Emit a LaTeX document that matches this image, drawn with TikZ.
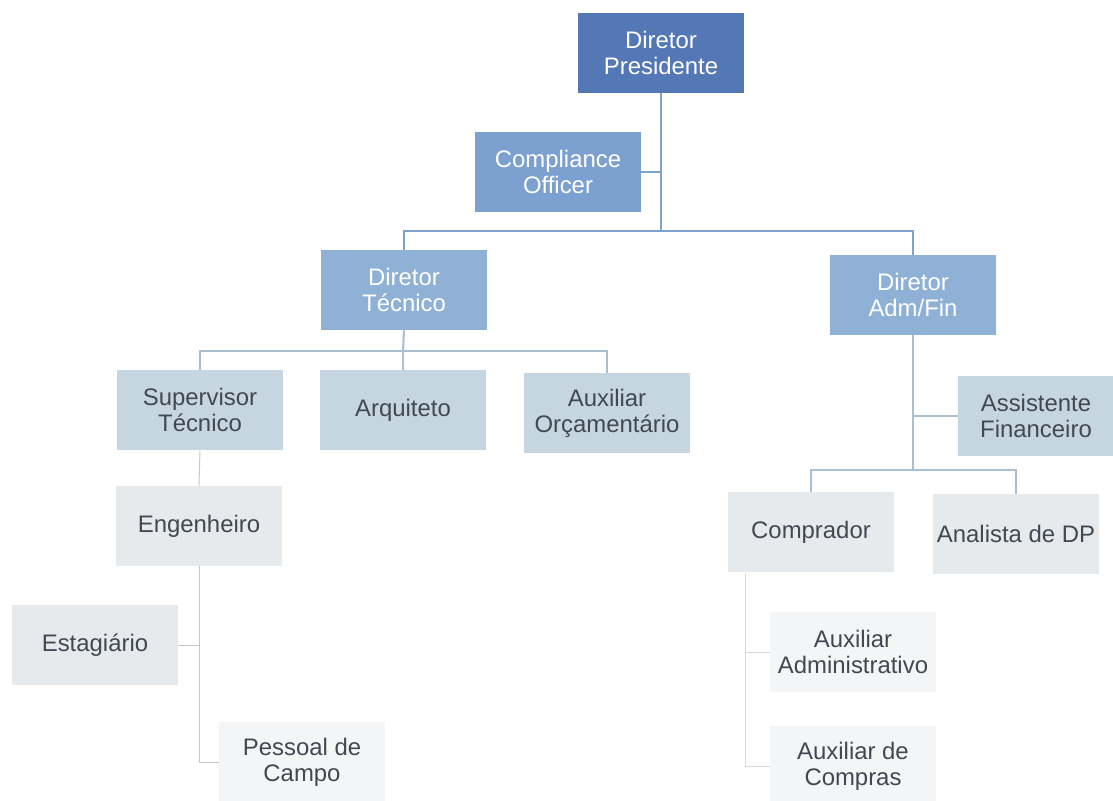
\documentclass[tikz,border=0pt]{standalone}
\usepackage{fontspec}
\setmainfont{Liberation Sans}
\usepackage{tikz}
\usetikzlibrary{positioning}
\definecolor{presblue}{RGB}{84,119,181}
\definecolor{compblue}{RGB}{124,161,208}
\definecolor{dirblue}{RGB}{143,177,214}
\definecolor{lvlthree}{RGB}{198,214,224}
\definecolor{lvlfour}{RGB}{231,234,237}
\definecolor{lvlfive}{RGB}{244,245,246}
\definecolor{txtgray}{RGB}{66,72,82}
\definecolor{lineblue}{RGB}{128,162,207}
\definecolor{linegray}{RGB}{168,192,210}

\begin{document}
\begin{tikzpicture}[
  x=0.025cm, y=-0.025cm,
  font=\fontsize{17}{18.5}\selectfont,
  box/.style={rectangle, inner sep=0pt, minimum width=4.15cm, minimum height=2cm, align=center},
  bbox/.style={box, fill=#1, text=white},
  gbox/.style={box, fill=#1, text=txtgray},
  l1/.style={lineblue, line width=1.8pt},
  l2/.style={linegray, line width=1.5pt},
  l3/.style={black!22, line width=0.7pt},
  l4/.style={black!15, line width=0.6pt}
]
\path[use as bounding box, fill=white] (0,0) rectangle (1113,801);

%% Top
\node[bbox=presblue] (pres) at (661,53)  {Diretor\\Presidente};
\node[bbox=compblue] (comp) at (558,172) {Compliance\\Officer};

%% Directors
\node[bbox=dirblue] (dtec) at (404,290) {Diretor\\Técnico};
\node[bbox=dirblue] (dadm) at (913,295) {Diretor\\Adm/Fin};

%% Technical staff
\node[gbox=lvlthree] (sup)  at (200,410) {Supervisor\\Técnico};
\node[gbox=lvlthree] (arq)  at (403,410) {Arquiteto};
\node[gbox=lvlthree] (auxo) at (607,413) {Auxiliar\\Orçamentário};
\node[gbox=lvlfour]  (eng)  at (199,526) {Engenheiro};
\node[gbox=lvlfour]  (estg) at (95,645)  {Estagiário};
\node[gbox=lvlfive]  (pess) at (302,762) {Pessoal de\\Campo};

%% Adm/Fin staff
\node[gbox=lvlthree, minimum width=3.88cm] (assf) at (1036,416) {Assistente\\Financeiro};
\node[gbox=lvlfour]  (compr) at (811,532)  {Comprador};
\node[gbox=lvlfour]  (anal)  at (1016,534) {Analista de DP};
\node[gbox=lvlfive]  (auxa)  at (853,652)  {Auxiliar\\Administrativo};
\node[gbox=lvlfive]  (auxc)  at (853,766)  {Auxiliar de\\Compras};

%% Junctions
\coordinate (j0) at (661,231);
\coordinate (j1) at (403,351);
\coordinate (j2) at (913,470);
\coordinate (j4) at (745,573);

%% Lines
\draw[l1] (pres.south) -- (j0);
\draw[l1] (comp.east) -- (comp.east -| j0);
\draw[l1] (dtec.north) -- (dtec.north |- j0) -- (dadm.north |- j0) -- (dadm.north);

\draw[l2] (dtec.south) -- (j1);
\draw[l2] (sup.north) -- (sup.north |- j1) -- (auxo.north |- j1) -- (auxo.north);
\draw[l2] (arq.north) -- (arq.north |- j1);

\draw[l2] (dadm.south) -- (j2);
\draw[l2] (assf.west) -- (assf.west -| j2);
\draw[l2] (compr.north) -- (compr.north |- j2) -- (anal.north |- j2) -- (anal.north);

\draw[l3] (sup.south) -- (eng.north);
\draw[l3] (eng.south) |- (pess.west);
\draw[l3] (estg.east) -- (estg.east -| eng.south);

\draw[l4] (j4) |- (auxc.west);
\draw[l4] (auxa.west) -- (auxa.west -| j4);

\end{tikzpicture}
\end{document}
